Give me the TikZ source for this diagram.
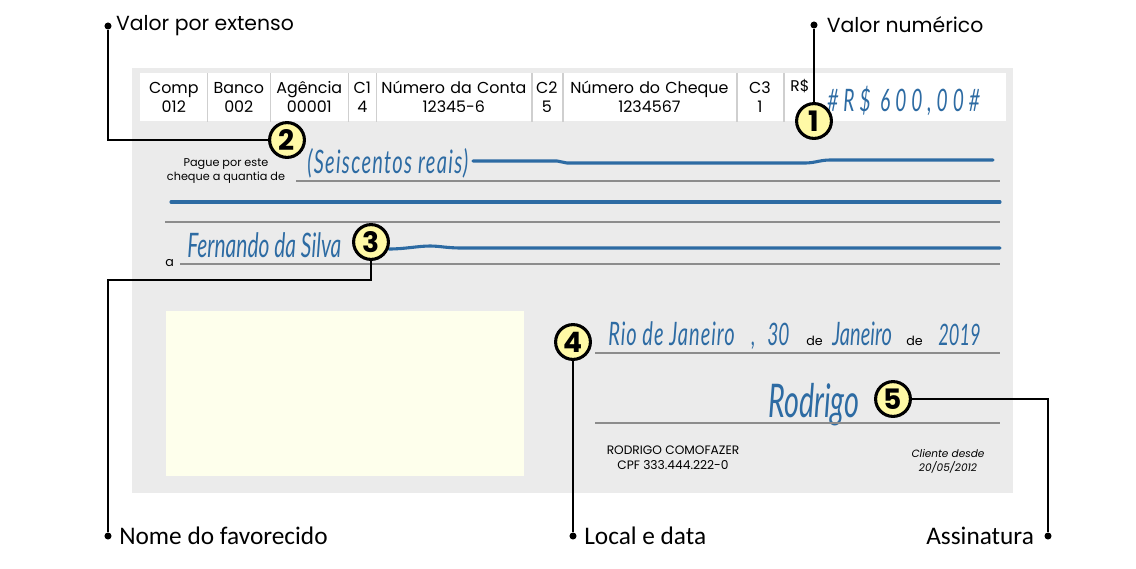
\documentclass[tikz,border=0pt]{standalone}
\usepackage{fontspec}
\setmainfont{Poppins}
\newfontfamily\condfont{Carlito}
\newfontfamily\handfont{Lato}[FakeStretch=0.62]
\usetikzlibrary{positioning, matrix, calc}

\definecolor{chequebg}{HTML}{EBEBEB}
\definecolor{inkblue}{HTML}{2D6BA3}
\definecolor{ruleline}{HTML}{8C8C8C}
\definecolor{celldiv}{HTML}{CFCFCF}
\definecolor{badgefill}{HTML}{FFF9A6}
\definecolor{stampfill}{HTML}{FEFFEC}

\newcommand{\inkfont}[1]{\handfont\itshape\fontsize{#1}{#1}\selectfont}
\newcommand{\hcell}[2]{#1\par #2}

\begin{document}
\begin{tikzpicture}[x=0.025cm, y=-0.025cm,
    numbadge/.style={circle, draw, line width=2.2pt, fill=badgefill, minimum size=0.87cm,
                     inner sep=0pt, font=\fontsize{20}{20}\selectfont\bfseries},
    enddot/.style={circle, fill, inner sep=0pt, minimum size=5pt},
    callout/.style={line width=1.5pt},
    toplabel/.style={font=\fontsize{14.5}{17}\selectfont, inner sep=0pt},
    botlabel/.style={font=\condfont\fontsize{18}{20}\selectfont, inner sep=0pt},
    hand/.style={text=inkblue, inner sep=0pt, anchor=base west},
    ruled/.style={ruleline, line width=0.9pt},
    inkstroke/.style={inkblue, line width=2.2pt, line cap=round},
    smalltext/.style={font=\fontsize{8}{10}\selectfont, inner sep=0pt}]

    \useasboundingbox (0,0) rectangle (1136,568);

    % cheque body
    \fill[chequebg] (132,68) rectangle (1013,493);
    \fill[stampfill] (166,311) rectangle (524,476);

    % header fields
    \matrix[matrix of nodes,
        ampersand replacement=\&,
        anchor=north west, fill=white, inner sep=0pt,
        nodes={anchor=center, align=center, inner sep=0pt, minimum height=1.2cm,
               font=\fontsize{11.3}{13.5}\selectfont},
        column sep=0pt,
        column 1/.style={nodes={text width=1.675cm}},
        column 2/.style={nodes={text width=1.575cm}},
        column 3/.style={nodes={text width=1.95cm}},
        column 4/.style={nodes={text width=0.7cm}},
        column 5/.style={nodes={text width=3.875cm}},
        column 6/.style={nodes={text width=0.775cm}},
        column 7/.style={nodes={text width=4.35cm}},
        column 8/.style={nodes={text width=1.175cm}},
        column 9/.style={nodes={text width=5.55cm}}] (hdr) at (140,73) {
        \hcell{Comp}{012} \& \hcell{Banco}{002} \& \hcell{Agência}{00001} \& \hcell{C1}{4} \&
        \hcell{Número da Conta}{12345-6} \& \hcell{C2}{5} \& \hcell{Número do Cheque}{1234567} \&
        \hcell{C3}{1} \& \strut \\
    };
    \foreach \c in {1,...,8}
        \draw[celldiv, line width=1.2pt] (hdr-1-\c.north east) -- (hdr-1-\c.south east);
    \node[font=\fontsize{11}{12}\selectfont, inner sep=0pt,
          below right=0.15cm and 0.175cm of hdr-1-9.north west] (rs) {R\$};
    \node[hand, font=\inkfont{22}\addfontfeatures{LetterSpace=16}] (amount) at (827,111) {\#R\$ 600,00\#};

    % amount in words and payee
    \node[smalltext, align=center] (pague) at (226,171) {Pague por este\\cheque a quantia de};
    \node[hand, font=\inkfont{23}\addfontfeatures{LetterSpace=4}] (words) at (307,173) {(Seiscentos reais)};
    \draw[inkstroke] (473,161) -- (557,161) to[out=0, in=180] (567,163) -- (805,163)
        to[out=0, in=180] (830,160) -- (993,160);
    \draw[ruled] (296,181) -- (1000,181);
    \draw[inkstroke] (171,202) -- (1000,202);
    \draw[ruled] (165,222) -- (1000,222);
    \node[font=\fontsize{9}{10}\selectfont, inner sep=0pt, anchor=base west] (a) at (165,266) {a};
    \node[hand, font=\inkfont{24}] (payee) at (187,257) {Fernando da Silva};
    \draw[inkstroke] (389,249) .. controls (405,249) and (418,246) .. (430,246)
        .. controls (440,246) and (446,248) .. (462,248) -- (1000,248);
    \draw[ruled] (180,264) -- (1000,264);

    % place, date and signature
    \node[hand, font=\inkfont{23}\addfontfeatures{LetterSpace=3}] (city) at (608,345) {Rio de Janeiro};
    \node[hand, font=\inkfont{21}] (comma) at (751,345) {,};
    \node[hand, font=\inkfont{22}] (day) at (767,345) {30};
    \node[font=\fontsize{9}{10}\selectfont, inner sep=0pt, anchor=base west] (de1) at (806,345) {de};
    \node[hand, font=\inkfont{23}] (month) at (832,345) {Janeiro};
    \node[font=\fontsize{9}{10}\selectfont, inner sep=0pt, anchor=base west] (de2) at (906,345) {de};
    \node[hand, font=\inkfont{21}] (year) at (938,345) {2019};
    \draw[ruled] (595,353) -- (1000,353);
    \node[hand, font=\inkfont{33}] (sign) at (768,417) {Rodrigo};
    \draw[ruled] (595,423) -- (1000,423);
    \node[smalltext, align=center, font=\fontsize{8.7}{10.5}\selectfont] (owner) at (673,458) {RODRIGO COMOFAZER\\CPF 333.444.222-0};
    \node[smalltext, align=center, font=\fontsize{7.5}{10}\selectfont\itshape] (since) at (948,461) {Cliente desde\\20/05/2012};

    % numbered badges
    \node[numbadge] (b1) at (814,121) {1};
    \node[numbadge] (b2) at (287,140) {2};
    \node[numbadge] (b3) at (371,242) {3};
    \node[numbadge] (b4) at (573,342) {4};
    \node[numbadge] (b5) at (893,399) {5};

    % callout labels
    \node[enddot] (dotext) at (108,26) {};
    \node[toplabel, right=0.1cm of dotext] (lblext) {Valor por extenso};
    \node[enddot] (dotnum) at (814,25) {};
    \node[toplabel, right=0.22cm of dotnum] (lblnum) {Valor numérico};
    \node[enddot] (dotnome) at (108,536) {};
    \node[botlabel, right=0.18cm of dotnome] (lblnome) {Nome do favorecido};
    \node[enddot] (dotloc) at (573,536) {};
    \node[botlabel, right=0.18cm of dotloc] (lblloc) {Local e data};
    \node[enddot] (dotsig) at (1048,536) {};
    \node[botlabel, left=0.25cm of dotsig] (lblsig) {Assinatura};
    \coordinate (k3) at (371,280);

    \draw[callout] (dotnum) -- (b1);
    \draw[callout] (dotext) |- (b2);
    \draw[callout] (dotnome) |- (k3) -- (b3);
    \draw[callout] (dotloc) -- (b4);
    \draw[callout] (dotsig) |- (b5);
\end{tikzpicture}
\end{document}
